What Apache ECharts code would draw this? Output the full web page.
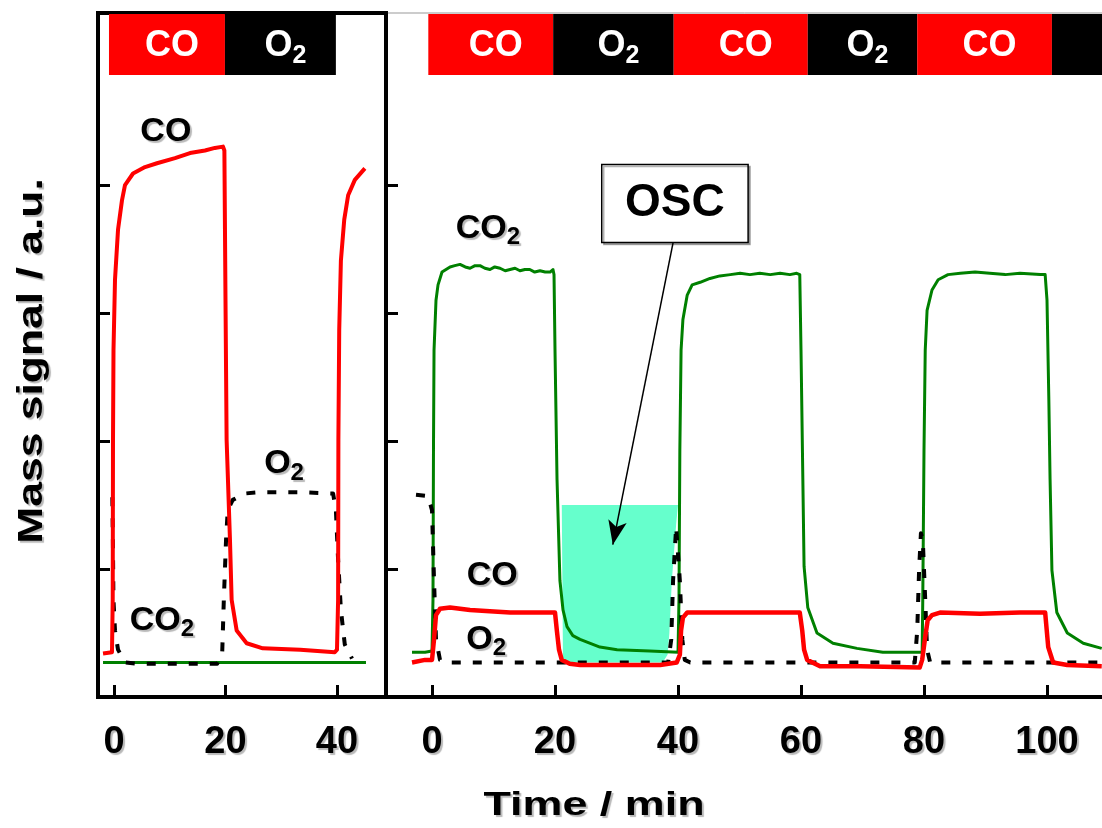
<!DOCTYPE html>
<html><head><meta charset="utf-8">
<script src="https://cdn.jsdelivr.net/npm/echarts@6/dist/echarts.min.js"></script>
<style>html,body{margin:0;padding:0;background:#fff}#c{width:1102px;height:828px}</style>
</head><body><div id="c"></div>
<script>
// ---------- data ----------
const LEFT_X_TICKS = [0, 20, 40];
const RIGHT_X_TICKS = [0, 20, 40, 60, 80, 100];
const Y_TICKS = [1, 2, 3, 4];

// gas switching bands: [start, end, gas]
const LEFT_GAS = [[-0.9, 19.9, 'CO'], [19.9, 39.8, 'O2']];
const RIGHT_GAS = [[-0.6, 19.7, 'CO'], [19.7, 39.3, 'O2'], [39.3, 61.1, 'CO'], [61.1, 78.9, 'O2'], [78.9, 100.8, 'CO'], [100.8, 125, '']];

// left panel (time / min, signal / a.u.)
const LEFT_CO = [[-1.97,0.34],[-0.36,0.35],[-0.23,0.76],[-0.18,2.01],[-0.09,2.71],[0.18,3.26],[0.72,3.65],[1.43,3.88],[1.97,4.00],[3.41,4.09],[5.56,4.14],[7.71,4.17],[10.94,4.21],[13.63,4.25],[16.32,4.27],[18.1,4.29],[19.55,4.30],[19.8,4.27],[20.0,3.10],[20.2,2.01],[20.8,1.23],[21.1,0.76],[22.0,0.52],[23.8,0.42],[26.7,0.38],[33.4,0.37],[39.6,0.35],[40.0,0.37],[40.2,0.76],[40.25,2.01],[40.4,2.87],[40.7,3.41],[41.3,3.73],[42.0,3.92],[43.2,4.04],[45.0,4.13]];
const LEFT_CO2 = [[-1.97,0.27],[10,0.27],[20,0.27],[30,0.27],[45.2,0.27]];
const LEFT_O2 = [[-0.3,1.56],[-0.2,1.23],[-0.1,0.76],[0.18,0.52],[0.72,0.37],[1.97,0.27],[4.1,0.26],[18.5,0.26],[19.4,0.33],[19.7,0.76],[20.1,1.23],[20.4,1.46],[21.3,1.54],[23.5,1.59],[26.2,1.60],[33.4,1.60],[39.3,1.59],[39.8,1.46],[40.2,1.07],[40.7,0.68],[41.4,0.41],[42.7,0.30]];

// right panel
const RIGHT_CO2 = [[-3.25,0.35],[-1.14,0.35],[0,0.36],[0.16,0.76],[0.24,1.93],[0.33,2.71],[0.65,3.10],[0.98,3.22],[1.63,3.32],[2.93,3.36],[3.7,3.37],[4.55,3.38],[5.4,3.36],[6.18,3.35],[7.0,3.37],[7.8,3.37],[8.6,3.35],[9.43,3.34],[10.2,3.36],[11.06,3.35],[11.9,3.33],[12.7,3.34],[13.5,3.35],[14.3,3.33],[15.1,3.34],[15.9,3.34],[16.7,3.32],[17.56,3.33],[18.4,3.32],[19.2,3.32],[19.67,3.34],[19.84,3.30],[20.0,2.71],[20.33,1.70],[20.8,0.91],[21.3,0.68],[21.95,0.55],[22.9,0.48],[24.07,0.45],[27.3,0.39],[30.1,0.37],[35.4,0.36],[40.0,0.35],[40.16,0.76],[40.3,1.93],[40.5,2.71],[40.8,2.95],[41.5,3.14],[42.3,3.22],[43.6,3.24],[45.2,3.27],[46.8,3.29],[48.5,3.30],[50.1,3.31],[51.7,3.30],[53.3,3.31],[55.0,3.30],[56.6,3.31],[58.2,3.30],[59.3,3.31],[59.8,3.30],[60.0,2.71],[60.3,1.70],[60.5,1.02],[61.1,0.70],[62.6,0.50],[65.2,0.42],[69.1,0.38],[73.3,0.35],[79.7,0.35],[79.8,0.76],[80.0,1.93],[80.2,2.71],[80.5,3.02],[81.3,3.18],[82.3,3.26],[83.9,3.30],[85.9,3.31],[88.3,3.32],[90.7,3.31],[93.2,3.30],[95.6,3.31],[98.9,3.30],[99.7,3.30],[100.0,3.10],[100.3,2.32],[100.5,1.70],[100.8,0.99],[101.6,0.66],[103.3,0.50],[105.9,0.42],[108.9,0.38]];
const RIGHT_CO = [[-3.25,0.27],[-1.14,0.29],[0,0.29],[0.33,0.45],[0.65,0.64],[1.3,0.69],[2.93,0.70],[6.18,0.68],[9.4,0.67],[12.7,0.66],[15.9,0.66],[20.0,0.66],[20.3,0.52],[20.65,0.37],[21.1,0.29],[22.4,0.26],[24.1,0.25],[30.6,0.25],[37.1,0.25],[39.8,0.27],[40.3,0.33],[40.5,0.52],[40.8,0.62],[41.5,0.66],[43.6,0.66],[50.1,0.66],[53.3,0.66],[59.8,0.66],[60.2,0.52],[60.5,0.37],[61.0,0.29],[63.1,0.24],[69.6,0.24],[79.3,0.23],[79.7,0.29],[80.2,0.47],[80.6,0.60],[81.3,0.64],[82.6,0.66],[89.1,0.65],[95.6,0.66],[99.7,0.66],[100.2,0.39],[101.0,0.27],[103.3,0.25],[108.9,0.24]];
const RIGHT_O2 = [[-2.6,1.58],[-0.65,1.57],[0,1.46],[0.33,0.91],[0.65,0.45],[1.3,0.29],[2.9,0.27],[38.4,0.27],[38.9,0.45],[39.2,0.91],[39.7,1.33],[40.0,1.33],[40.3,0.91],[40.7,0.45],[41.1,0.29],[42.0,0.27],[78.5,0.27],[78.9,0.52],[79.2,0.99],[79.5,1.28],[79.8,1.23],[80.2,0.76],[80.5,0.37],[81.0,0.27],[108.9,0.27]];

// oxygen storage capacity region (shaded)
const OSC_AREA = [[21.1,1.50],[40.0,1.50],[39.7,1.35],[39.0,0.91],[38.6,0.50],[38.3,0.33],[37.5,0.27],[21.3,0.27]];

// ---------- layout / style ----------
const FONT = '"Liberation Sans", Arial, sans-serif';
const BAND_TOP = 5.336, BAND_BOTTOM = 4.86;
const RED = '#FF0000', GREEN = '#008000';
const SHADOW_C = 'rgba(0,0,0,0.28)';
const shadow = {textShadowColor: SHADOW_C, textShadowBlur: 1, textShadowOffsetX: 2, textShadowOffsetY: 2};

const chart = echarts.init(document.getElementById('c'), null, {renderer: 'canvas'});

function bandSeries(gas, idx) {
  return {
    type: 'custom', xAxisIndex: idx, yAxisIndex: idx, z: 5, silent: true,
    data: gas.map(g => [g[0], g[1]]),
    renderItem: function (params, api) {
      const g = gas[params.dataIndex];
      const a = api.coord([g[0], BAND_TOP]);
      const b = api.coord([g[1], BAND_BOTTOM]);
      const children = [{
        type: 'rect',
        shape: {x: a[0], y: a[1], width: b[0] - a[0], height: b[1] - a[1]},
        style: {fill: g[2] === 'CO' ? RED : '#000'}
      }];
      if (g[2]) {
        children.push({
          type: 'text',
          style: {
            text: g[2] === 'CO' ? 'CO' : 'O{s|2}',
            x: (a[0] + b[0]) / 2 + 5, y: (a[1] + b[1]) / 2 + 2,
            align: 'center', verticalAlign: 'middle',
            fill: '#fff', font: 'bold 36px ' + FONT,
            rich: {s: {fontSize: 25, fontWeight: 'bold', fontFamily: FONT, fill: '#fff', padding: [20, 0, 0, 0]}}
          }
        });
      }
      return {type: 'group', children: children};
    }
  };
}

// curve name annotations drawn as text at data coordinates
function annoSeries(idx, items) {
  return {
    type: 'custom', xAxisIndex: idx, yAxisIndex: idx, z: 6, silent: true,
    data: items.map(it => it.at),
    renderItem: function (params, api) {
      const it = items[params.dataIndex];
      const p = api.coord(it.at);
      return {
        type: 'text',
        style: {
          text: it.text, x: p[0], y: p[1], align: 'center', verticalAlign: 'middle',
          fill: '#000', font: 'bold 34px ' + FONT,
          textShadowColor: SHADOW_C, textShadowBlur: 1, textShadowOffsetX: 2, textShadowOffsetY: 2,
          rich: {s: {fontSize: 24, fontWeight: 'bold', fontFamily: FONT, fill: '#000', padding: [18, 0, 0, 0],
            textShadowColor: SHADOW_C, textShadowBlur: 1, textShadowOffsetX: 2, textShadowOffsetY: 2}}
        }
      };
    }
  };
}

function lineS(data, idx, color, width, dash, z) {
  return {
    type: 'line', xAxisIndex: idx, yAxisIndex: idx, data: data, showSymbol: false, symbol: 'none',
    smooth: false, z: z, silent: true, animation: false,
    lineStyle: {color: color, width: width, type: dash || 'solid', cap: 'butt', join: 'round'}
  };
}

const xAxisBase = {
  type: 'value', splitLine: {show: false},
  axisLine: {show: true, onZero: false, lineStyle: {color: '#000', width: 4}},
  axisTick: {show: true, inside: true, length: 12, lineStyle: {color: '#000', width: 3}},
  axisLabel: {show: true, margin: 27, color: '#000', fontSize: 38, fontWeight: 'bold', fontFamily: FONT, ...shadow}
};
const yAxisBase = {
  type: 'value', min: 0, max: 5.344, splitLine: {show: false},
  axisLine: {show: true, onZero: false, lineStyle: {color: '#000', width: 4}},
  axisTick: {show: true, inside: true, length: 12, lineStyle: {color: '#000', width: 3}, customValues: Y_TICKS},
  axisLabel: {show: false}
};

const titleStyle = {fill: '#000', align: 'center', verticalAlign: 'middle',
  textShadowColor: SHADOW_C, textShadowBlur: 1, textShadowOffsetX: 2, textShadowOffsetY: 2};

const option = {
  animation: false,
  backgroundColor: '#fff',
  grid: [
    {left: 98, top: 13, width: 288, height: 684, show: true, borderColor: '#000', borderWidth: 4, outerBoundsMode: 'none', containLabel: false},
    {left: 386, top: 13, width: 722.5, height: 684, show: true, borderColor: '#999', borderWidth: 1, outerBoundsMode: 'none', containLabel: false}
  ],
  xAxis: [
    Object.assign({}, xAxisBase, {gridIndex: 0, min: -2.87, max: 48.79,
      axisTick: Object.assign({}, xAxisBase.axisTick, {customValues: LEFT_X_TICKS}),
      axisLabel: Object.assign({}, xAxisBase.axisLabel, {customValues: LEFT_X_TICKS})}),
    Object.assign({}, xAxisBase, {gridIndex: 1, min: -7.48, max: 110,
      axisTick: Object.assign({}, xAxisBase.axisTick, {customValues: RIGHT_X_TICKS}),
      axisLabel: Object.assign({}, xAxisBase.axisLabel, {customValues: RIGHT_X_TICKS})})
  ],
  yAxis: [
    Object.assign({}, yAxisBase, {gridIndex: 0}),
    Object.assign({}, yAxisBase, {gridIndex: 1})
  ],
  graphic: [
    {type: 'text', x: 594, y: 806, scaleX: 1.36, z: 10,
      style: Object.assign({text: 'Time / min', font: 'bold 33px ' + FONT}, titleStyle)},
    {type: 'text', x: 32, y: 361, rotation: Math.PI / 2, scaleX: 1.27, z: 10,
      style: Object.assign({text: 'Mass signal / a.u.', font: 'bold 35px ' + FONT}, titleStyle)}
  ],
  series: [
    // OSC shaded area
    {
      type: 'custom', xAxisIndex: 1, yAxisIndex: 1, z: 1, silent: true, data: [[0]],
      renderItem: function (params, api) {
        return {type: 'polygon', shape: {points: OSC_AREA.map(p => api.coord(p))}, style: {fill: '#66FFCC'}};
      }
    },
    bandSeries(LEFT_GAS, 0),
    bandSeries(RIGHT_GAS, 1),
    lineS(LEFT_CO2, 0, GREEN, 3, null, 3),
    lineS(LEFT_O2, 0, '#000', 4, [9, 12], 3),
    lineS(LEFT_CO, 0, RED, 4, null, 4),
    lineS(RIGHT_CO2, 1, GREEN, 3, null, 3),
    lineS(RIGHT_O2, 1, '#000', 4, [9, 12], 3),
    lineS(RIGHT_CO, 1, RED, 4.5, null, 4),
    annoSeries(0, [
      {at: [9.3, 4.42], text: 'CO'},
      {at: [8.6, 0.60], text: 'CO{s|2}'},
      {at: [30.5, 1.82], text: 'O{s|2}'}
    ]),
    annoSeries(1, [
      {at: [9.1, 3.66], text: 'CO{s|2}'},
      {at: [9.8, 0.95], text: 'CO'},
      {at: [8.8, 0.45], text: 'O{s|2}'}
    ]),
    {
      type: 'scatter', xAxisIndex: 1, yAxisIndex: 1, symbolSize: 0, itemStyle: {color: 'rgba(0,0,0,0)'}, z: 6, silent: true,
      data: [],
      markArea: {
        silent: true,
        itemStyle: {color: '#fff', borderColor: '#000', borderWidth: 1.5, shadowColor: 'rgba(0,0,0,0.3)', shadowOffsetX: 2, shadowOffsetY: 2},
        label: {show: true, position: 'inside', formatter: 'OSC', color: '#000', fontSize: 46, fontWeight: 'bold', fontFamily: FONT},
        data: [[{coord: [27.6, 4.16]}, {coord: [51.4, 3.55]}]]
      },
      markLine: {
        silent: true, animation: false,
        lineStyle: {color: '#000', width: 1.5, type: 'solid'},
        label: {show: false},
        data: [[{coord: [39.2, 3.55], symbol: 'none'}, {coord: [29.4, 1.19], symbol: 'arrow', symbolSize: [14, 24]}]]
      }
    }
  ]
};
chart.setOption(option);
</script></body></html>
